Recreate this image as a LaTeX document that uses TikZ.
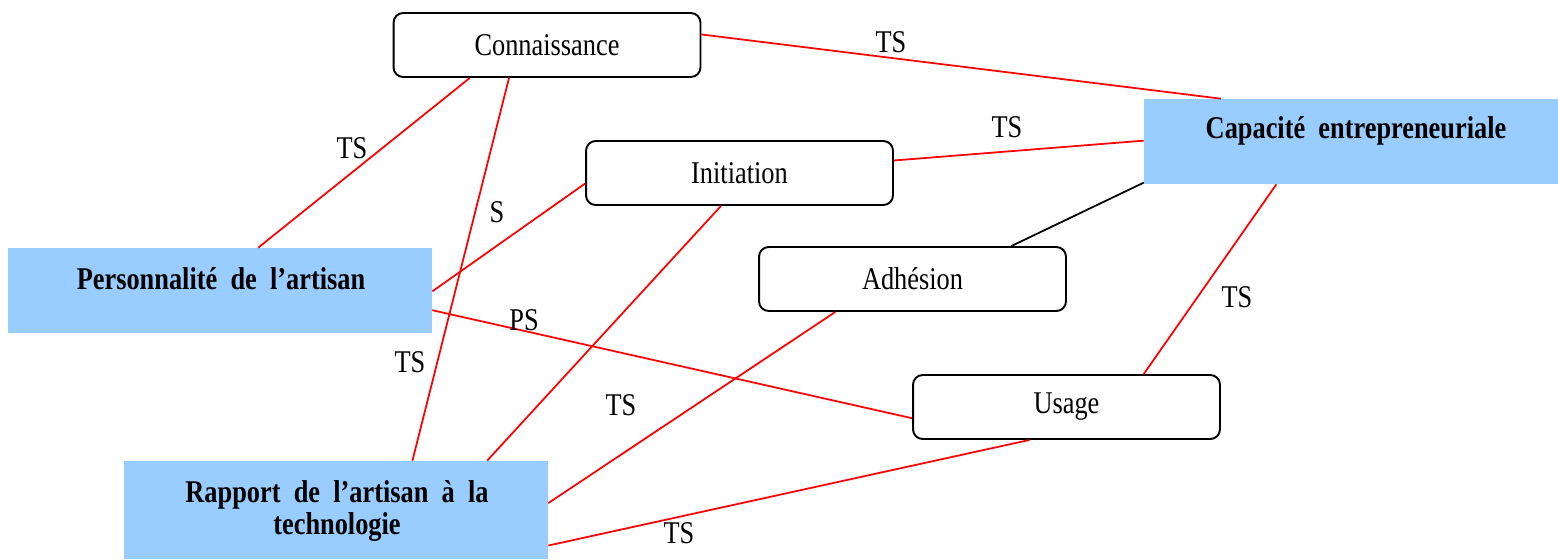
\documentclass[tikz,border=0pt]{standalone}
\usepackage{fontspec}
\setmainfont{Liberation Serif}
\usetikzlibrary{calc}
\definecolor{boxblue}{RGB}{153,204,255}
\definecolor{linkred}{RGB}{255,0,0}
\tikzset{
  x=0.02cm, y=-0.02cm,
  roundbox/.style={draw=black, line width=1.1pt, rounded corners=5.5pt, fill=white,
    minimum width=6.14cm, minimum height=1.28cm, inner sep=0pt,
    font=\fontsize{15}{18}\selectfont},
  bluebox/.style={fill=boxblue, draw=none, inner sep=0pt},
  boldtxt/.style={font=\fontsize{15}{16}\selectfont\bfseries, inner sep=0pt},
  lbl/.style={font=\fontsize{15}{18}\selectfont, inner sep=0pt},
  redlink/.style={draw=linkred, line width=1pt},
  blacklink/.style={draw=black, line width=1pt},
}
% text set a little taller than wide
\newcommand{\tall}[1]{\scalebox{1}[1.2]{#1}}
\newcommand{\along}[3]{($(#1)!#3!(#2)$)}
\begin{document}
\begin{tikzpicture}
\useasboundingbox (0,0) rectangle (1558,559);

% blue boxes
\node[bluebox, minimum width=8.28cm, minimum height=1.70cm] (cap) at (1351,141.5) {};
\node[boldtxt] at (1356,131) {\tall{Capacité\hspace{0.5em}entrepreneuriale}};
\node[bluebox, minimum width=8.48cm, minimum height=1.70cm] (pers) at (220,290.5) {};
\node[boldtxt] at (221,279) {\tall{Personnalité\hspace{0.5em}de\hspace{0.5em}l’artisan}};
\node[bluebox, minimum width=8.48cm, minimum height=1.96cm] (rap) at (336,510) {};
\node[boldtxt] at (337,495) {\tall{Rapport\hspace{0.5em}de\hspace{0.5em}l’artisan\hspace{0.5em}à\hspace{0.5em}la}};
\node[boldtxt] at (337,527) {\tall{technologie}};

% rounded boxes
\node[roundbox] (conn) at (547,45) {\tall{Connaissance}};
\node[roundbox] (init) at (739.5,173) {\tall{Initiation}};
\node[roundbox] (adh) at (912.5,279) {\tall{Adhésion}};
\node[roundbox] (usa) at (1066.5,407) {\tall{Usage}};

% links
\draw[redlink] \along{conn.north east}{conn.south east}{0.34} -- \along{cap.north west}{cap.north east}{0.186};
\draw[redlink] \along{conn.south west}{conn.south east}{0.25} -- \along{pers.north west}{pers.north east}{0.59};
\draw[redlink] \along{conn.south west}{conn.south east}{0.377} -- \along{rap.north west}{rap.north east}{0.68};
\draw[redlink] \along{init.north east}{init.south east}{0.31} -- \along{cap.north west}{cap.south west}{0.49};
\draw[redlink] \along{init.north west}{init.south west}{0.66} -- \along{pers.north east}{pers.south east}{0.51};
\draw[redlink] \along{init.south west}{init.south east}{0.44} -- \along{rap.north west}{rap.north east}{0.856};
\draw[blacklink] \along{cap.north west}{cap.south west}{0.98} -- \along{adh.north west}{adh.north east}{0.82};
\draw[redlink] \along{adh.south west}{adh.south east}{0.25} -- \along{rap.north east}{rap.south east}{0.43};
\draw[redlink] \along{pers.north east}{pers.south east}{0.73} -- \along{usa.north west}{usa.south west}{0.67};
\draw[redlink] \along{cap.south west}{cap.south east}{0.32} -- \along{usa.north west}{usa.north east}{0.75};
\draw[redlink] \along{usa.south west}{usa.south east}{0.38} -- \along{rap.north east}{rap.south east}{0.86};

% link labels
\node[lbl] at (891,42) {\tall{TS}};
\node[lbl] at (352,148) {\tall{TS}};
\node[lbl] at (1007,127) {\tall{TS}};
\node[lbl] at (497,212) {\tall{S}};
\node[lbl] at (524,320) {\tall{PS}};
\node[lbl] at (410,362) {\tall{TS}};
\node[lbl] at (1237,297) {\tall{TS}};
\node[lbl] at (621,405) {\tall{TS}};
\node[lbl] at (679,533) {\tall{TS}};
\end{tikzpicture}
\end{document}
